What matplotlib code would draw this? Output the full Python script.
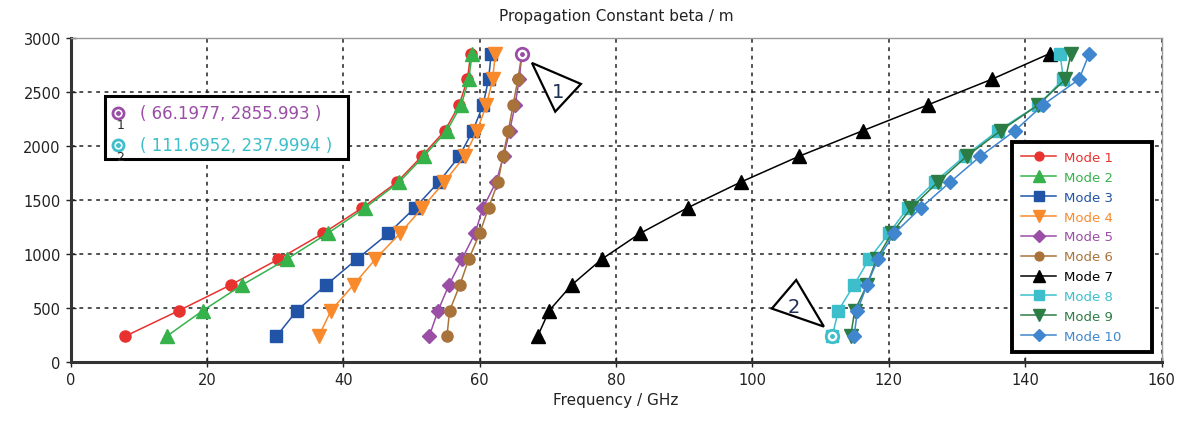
import matplotlib
matplotlib.use("Agg")
import matplotlib.pyplot as plt
import matplotlib.transforms as mtransforms
from matplotlib.patches import Polygon, Rectangle
import numpy as np

# ---- data ----
beta = [238, 476, 714, 952, 1190, 1428, 1666, 1904, 2142, 2380, 2618, 2856]
mode1 = [8.0, 15.9, 23.5, 30.5, 37.0, 42.8, 47.9, 51.5, 54.9, 57.0, 58.2, 58.7]
mode2 = [14.1, 19.4, 25.2, 31.7, 37.7, 43.2, 48.2, 51.8, 55.2, 57.3, 58.4, 58.9]
mode3 = [30.2, 33.2, 37.5, 42.0, 46.6, 50.5, 54.0, 57.0, 59.0, 60.5, 61.3, 61.7]
mode4 = [36.4, 38.2, 41.5, 44.7, 48.3, 51.6, 54.8, 57.8, 59.6, 61.0, 61.9, 62.3]
mode5 = [52.6, 53.9, 55.5, 57.4, 59.3, 60.5, 62.4, 63.5, 64.4, 65.2, 65.8, 66.2]
mode6 = [55.2, 55.6, 57.1, 58.4, 60.0, 61.3, 62.7, 63.4, 64.2, 64.9, 65.6, 66.2]
mode7 = [68.5, 70.2, 73.5, 77.9, 83.5, 90.5, 98.3, 106.8, 116.2, 125.7, 135.1, 143.6]
mode8 = [111.7, 112.6, 114.9, 117.1, 120.0, 122.8, 126.7, 131.1, 136.0, 141.9, 145.6, 145.1]
mode9 = [114.4, 115.0, 116.8, 118.2, 120.4, 123.3, 127.2, 131.4, 136.4, 141.9, 145.9, 146.7]
mode10 = [114.9, 115.4, 116.8, 118.4, 120.8, 124.7, 129.0, 133.4, 138.5, 142.6, 147.9, 149.4]

modes = [mode1, mode2, mode3, mode4, mode5, mode6, mode7, mode8, mode9, mode10]
labels = ["Mode %d" % i for i in range(1, 11)]
colors = ["#e8322f", "#35b24a", "#2153a6", "#f98a2c", "#9a4ea6",
          "#a8733a", "#000000", "#3dbfcb", "#2c7c45", "#3f86cf"]
markers = ["o", "^", "s", "v", "D", "o", "^", "s", "v", "D"]
msizes = [8, 10, 8.5, 10, 7.5, 8, 10, 8.5, 10, 7.5]

marker_pts = [(66.1977, 2855.993), (111.6952, 237.9994)]
marker_cols = ["#9a4ea6", "#3dbfcb"]
marker_txt = ["( 66.1977, 2855.993 )", "( 111.6952, 237.9994 )"]

xticks = [0, 20, 40, 60, 80, 100, 120, 140, 160]
yticks = [0, 500, 1000, 1500, 2000, 2500, 3000]

plt.rcParams['font.family'] = ['DejaVu Sans']

fig = plt.figure(figsize=(11.82, 4.27), dpi=100)
ax = fig.add_axes([70.5/1182, 1-363/427, (1161.6-70.5)/1182, (363-39)/427])

for xs, lab, c, m, ms in zip(modes, labels, colors, markers, msizes):
    ax.plot(xs, beta, color=c, marker=m, markersize=ms, linewidth=1.1,
            markeredgecolor=c, label=lab)

ax.set_xlim(0, 160)
ax.set_ylim(0, 3000)
ax.set_xticks(xticks)
ax.set_yticks(yticks)
ax.tick_params(direction='inout', length=7, width=1, labelsize=10.5, colors='#222222')
ax.grid(True, color='#222222', linestyle=(0, (2.5, 3)), linewidth=1.1)
for s in ['left', 'bottom']:
    ax.spines[s].set_linewidth(2.2)
    ax.spines[s].set_color('#333333')
for s in ['top', 'right']:
    ax.spines[s].set_linewidth(1.0)
    ax.spines[s].set_color('#999999')

ax.set_title("Propagation Constant beta / m", fontsize=11, pad=13, color='#222222')
ax.set_xlabel("Frequency / GHz", fontsize=11, color='#222222', labelpad=4)

leg = ax.legend(loc='lower left', bbox_to_anchor=(0.863, 0.031, 0.128, 0.6),
                mode='expand', borderaxespad=0,
                fancybox=False, framealpha=1, edgecolor='black', fontsize=9.5,
                labelspacing=0.52, handlelength=2.6, markerscale=0.8,
                borderpad=0.7, handletextpad=0.6)
leg.get_frame().set_linewidth(2.8)
for t, c in zip(leg.get_texts(), colors):
    t.set_color(c)

# marked points
for (px, py), c in zip(marker_pts, marker_cols):
    ax.plot([px], [py], marker='o', markersize=9, markerfacecolor='white',
            markeredgecolor=c, markeredgewidth=2, zorder=5)
    ax.plot([px], [py], marker='o', markersize=2.5, color=c, zorder=6)

# callout triangles (offsets in inches at 100 dpi from the marked point)
tri_offsets = [
    [(0.10, -0.094), (0.59, -0.304), (0.333, -0.581)],
    [(-0.36, 0.563), (-0.603, 0.277), (-0.083, 0.097)],
]
lab_offsets = [(0.36, -0.38), (-0.385, 0.30)]
for i, ((px, py), verts, lo) in enumerate(zip(marker_pts, tri_offsets, lab_offsets)):
    trans = fig.dpi_scale_trans + mtransforms.ScaledTranslation(px, py, ax.transData)
    ax.add_patch(Polygon(verts, closed=True, facecolor='white', edgecolor='black',
                         linewidth=1.6, transform=trans, zorder=7, clip_on=False))
    ax.text(lo[0], lo[1], str(i + 1), transform=trans, fontsize=14, color='#1c2f55',
            ha='center', va='center', zorder=8)

# readout box
ax.add_patch(Rectangle((0.0316, 0.6265), 0.2228, 0.1945, transform=ax.transAxes,
                       facecolor='white', edgecolor='black', linewidth=2.2, zorder=9))
for i, (c, txt) in enumerate(zip(marker_cols, marker_txt)):
    yy = 0.7685 - i * 0.1
    ax.plot([0.0435], [yy], transform=ax.transAxes, marker='o', markersize=8,
            markerfacecolor='white', markeredgecolor=c, markeredgewidth=2, zorder=10)
    ax.plot([0.0435], [yy], transform=ax.transAxes, marker='o', markersize=2.5,
            color=c, zorder=11)
    ax.text(0.0455, yy - 0.035, str(i + 1), transform=ax.transAxes, fontsize=9,
            color='#2a2a2a', ha='center', va='center', zorder=11)
    ax.text(0.064, yy, txt, transform=ax.transAxes, fontsize=12, color=c,
            ha='left', va='center', zorder=11)

fig.savefig("out.png", dpi=100)
